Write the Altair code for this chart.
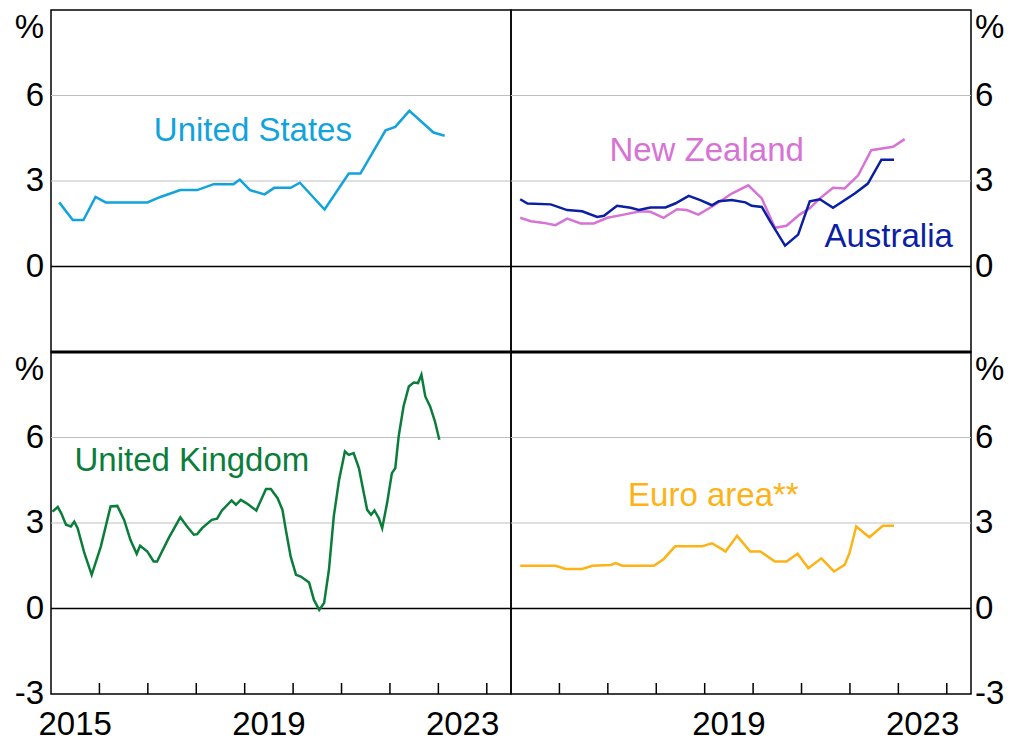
import altair as alt
import pandas as pd

FONT = "Arial"
FS = 33
W, H = 460, 342
XDOM = [2015, 2024.5]
YDOM = [-3, 9]

# ---- data (decimal years, % y/y) ----
us_x = [2015.17, 2015.45, 2015.67, 2015.92, 2016.13, 2016.99, 2017.26, 2017.67, 2018.02, 2018.36,
        2018.77, 2018.90, 2019.11, 2019.41, 2019.61, 2019.95, 2020.14, 2020.65, 2021.15, 2021.39,
        2021.91, 2022.11, 2022.40, 2022.90, 2023.13]
us_y = [2.25, 1.63, 1.63, 2.44, 2.25, 2.25, 2.44, 2.68, 2.68, 2.89,
        2.89, 3.05, 2.68, 2.53, 2.76, 2.76, 2.94, 2.00, 3.26, 3.26,
        4.78, 4.90, 5.46, 4.70, 4.59]

au_x = [2015.19, 2015.34, 2015.82, 2016.16, 2016.47, 2016.78, 2016.92, 2017.19, 2017.47, 2017.64,
        2017.88, 2018.19, 2018.39, 2018.67, 2018.91, 2019.15, 2019.29, 2019.56, 2019.84, 2019.97,
        2020.18, 2020.35, 2020.66, 2020.93, 2021.17, 2021.38, 2021.65, 2022.10, 2022.37, 2022.65,
        2022.91]
au_y = [2.36, 2.21, 2.18, 1.98, 1.94, 1.74, 1.78, 2.13, 2.06, 1.98,
        2.07, 2.07, 2.21, 2.48, 2.33, 2.15, 2.29, 2.33, 2.25, 2.13,
        2.09, 1.59, 0.73, 1.12, 2.29, 2.36, 2.06, 2.56, 2.91, 3.75,
        3.75]

nz_x = [2015.19, 2015.41, 2015.68, 2015.92, 2016.16, 2016.44, 2016.71, 2016.99, 2017.33, 2017.67,
        2017.88, 2018.15, 2018.43, 2018.63, 2018.87, 2019.18, 2019.56, 2019.90, 2020.18, 2020.45,
        2020.69, 2020.96, 2021.17, 2021.38, 2021.65, 2021.89, 2022.17, 2022.44, 2022.89, 2023.13]
nz_y = [1.71, 1.59, 1.53, 1.45, 1.68, 1.51, 1.51, 1.71, 1.82, 1.94,
        1.92, 1.71, 2.01, 1.98, 1.82, 2.13, 2.56, 2.85, 2.39, 1.36,
        1.43, 1.82, 2.04, 2.39, 2.76, 2.74, 3.20, 4.08, 4.20, 4.47]

uk_x = [2015.03, 2015.14, 2015.21, 2015.31, 2015.41, 2015.48, 2015.55, 2015.69, 2015.84, 2016.03,
        2016.23, 2016.37, 2016.51, 2016.64, 2016.77, 2016.84, 2016.99, 2017.12, 2017.19, 2017.43,
        2017.67, 2017.81, 2017.95, 2018.02, 2018.12, 2018.32, 2018.43, 2018.53, 2018.73, 2018.82,
        2018.92, 2019.04, 2019.24, 2019.44, 2019.54, 2019.68, 2019.78, 2019.85, 2019.95, 2020.06,
        2020.16, 2020.33, 2020.43, 2020.54, 2020.64, 2020.74, 2020.84, 2020.95, 2021.07, 2021.15,
        2021.25, 2021.36, 2021.46, 2021.53, 2021.61, 2021.68, 2021.77, 2021.84, 2021.94, 2022.04,
        2022.11, 2022.18, 2022.28, 2022.39, 2022.49, 2022.58, 2022.65, 2022.73, 2022.83, 2022.93,
        2023.02]
uk_y = [3.40, 3.56, 3.35, 2.94, 2.88, 3.05, 2.82, 1.94, 1.18, 2.18,
        3.58, 3.60, 3.11, 2.41, 1.92, 2.20, 2.00, 1.65, 1.65, 2.47,
        3.20, 2.88, 2.59, 2.61, 2.82, 3.11, 3.15, 3.44, 3.79, 3.64,
        3.81, 3.69, 3.44, 4.19, 4.19, 3.87, 3.46, 2.76, 1.82, 1.18,
        1.12, 0.91, 0.30, -0.05, 0.19, 1.36, 3.23, 4.52, 5.51, 5.39,
        5.45, 4.92, 4.05, 3.46, 3.29, 3.44, 3.17, 2.82, 3.69, 4.75,
        4.92, 6.04, 7.09, 7.79, 7.93, 7.91, 8.20, 7.44, 7.09, 6.56,
        5.92]

ea_x = [2015.19, 2015.92, 2016.13, 2016.47, 2016.68, 2017.06, 2017.16, 2017.30, 2017.95, 2018.15,
        2018.39, 2018.94, 2019.15, 2019.32, 2019.43, 2019.67, 2019.94, 2020.15, 2020.45, 2020.69,
        2020.92, 2021.14, 2021.41, 2021.67, 2021.89, 2021.99, 2022.13, 2022.40, 2022.68, 2022.91]
ea_y = [1.50, 1.50, 1.39, 1.39, 1.50, 1.53, 1.59, 1.50, 1.50, 1.73,
        2.18, 2.18, 2.29, 2.12, 2.00, 2.55, 2.00, 2.00, 1.65, 1.65,
        1.92, 1.41, 1.76, 1.30, 1.53, 1.94, 2.88, 2.50, 2.90, 2.90]

# series labels: (text, x year, y value)
us_label = ("United States", 2019.17, 4.77)
nz_label = ("New Zealand", 2019.04, 4.07)
au_label = ("Australia", 2022.8, 1.05)
uk_label = ("United Kingdom", 2017.91, 5.18)
ea_label = ("Euro area**", 2019.18, 3.95)

# axis tick labels
y_top_vals = [0, 3, 6]
y_top_text = ["0", "3", "6"]
y_bot_vals = [-3, 0, 3, 6]
y_bot_text = ["-3", "0", "3", "6"]
unit_val = 9
unit_text = "%"
x_left_vals = [2015.5, 2019.5, 2023.5]
x_left_text = ["2015", "2019", "2023"]
x_right_vals = [2019.5, 2023.5]
x_right_text = ["2019", "2023"]

grid_vals = [3, 6]
zero_vals = [0]
tick_years = [2016, 2017, 2018, 2019, 2020, 2021, 2022, 2023, 2024]

C_US = "#12A3DD"
C_AU = "#0B1FA3"
C_NZ = "#D673D5"
C_UK = "#0A7D3B"
C_EA = "#FDB316"

xs = alt.Scale(domain=XDOM, nice=False, zero=False)
ys = alt.Scale(domain=YDOM, nice=False, zero=False)


def ylabels(orient, vals, texts):
    xpos = -7 if orient == "left" else W + 4
    align = "right" if orient == "left" else "left"
    main = alt.Chart(pd.DataFrame({"v": vals, "t": texts})).mark_text(
        font=FONT, fontSize=FS, color="black", align=align, baseline="middle"
    ).encode(x=alt.value(xpos), y=alt.Y("v:Q", scale=ys, axis=None), text="t:N")
    unit = alt.Chart(pd.DataFrame({"v": [unit_val], "t": [unit_text]})).mark_text(
        font=FONT, fontSize=FS, color="black", align=align, baseline="top", dy=2
    ).encode(x=alt.value(xpos), y=alt.Y("v:Q", scale=ys, axis=None), text="t:N")
    return [main, unit]


def xlabels(vals, texts):
    return [alt.Chart(pd.DataFrame({"x": vals, "t": texts})).mark_text(
        font=FONT, fontSize=FS, color="black", align="center", baseline="top"
    ).encode(x=alt.X("x:Q", scale=xs, axis=None), y=alt.value(H + 15), text="t:N")]


def panel(series, labels, orient, yv, yt, xv, xt, top):
    layers = [
        alt.Chart(pd.DataFrame({"v": grid_vals})).mark_rule(color="#BFBFBF", strokeWidth=1.2)
        .encode(y=alt.Y("v:Q", scale=ys, axis=None)),
        alt.Chart(pd.DataFrame({"v": zero_vals})).mark_rule(color="black", strokeWidth=1.3)
        .encode(y=alt.Y("v:Q", scale=ys, axis=None)),
    ]
    if top:
        layers.append(
            alt.Chart(pd.DataFrame({"v": [YDOM[0]]})).mark_rule(color="black", strokeWidth=3)
            .encode(y=alt.Y("v:Q", scale=ys, axis=None)))
    else:
        layers.append(
            alt.Chart(pd.DataFrame({"yr": tick_years})).mark_rule(color="black", strokeWidth=1.5)
            .encode(x=alt.X("yr:Q", scale=xs, axis=None),
                    y=alt.value(H), y2=alt.value(H - 11)))
        layers += xlabels(xv, xt)
    layers += ylabels(orient, yv, yt)
    for sx, sy, col in series:
        df = pd.DataFrame({"x": sx, "y": sy})
        layers.append(
            alt.Chart(df).mark_line(color=col, strokeWidth=2.5)
            .encode(x=alt.X("x:Q", scale=xs, axis=None), y=alt.Y("y:Q", scale=ys, axis=None)))
    for (txt, lx, ly), col in labels:
        df = pd.DataFrame({"t": [txt], "x": [lx], "y": [ly]})
        layers.append(
            alt.Chart(df).mark_text(font=FONT, fontSize=FS, color=col, align="center", baseline="middle")
            .encode(x=alt.X("x:Q", scale=xs, axis=None), y=alt.Y("y:Q", scale=ys, axis=None), text="t:N"))
    return alt.layer(*layers).properties(width=W, height=H)


tl = panel([(us_x, us_y, C_US)], [(us_label, C_US)], "left",
           y_top_vals, y_top_text, None, None, True)
tr = panel([(nz_x, nz_y, C_NZ), (au_x, au_y, C_AU)], [(nz_label, C_NZ), (au_label, C_AU)], "right",
           y_top_vals, y_top_text, None, None, True)
bl = panel([(uk_x, uk_y, C_UK)], [(uk_label, C_UK)], "left",
           y_bot_vals, y_bot_text, x_left_vals, x_left_text, False)
br = panel([(ea_x, ea_y, C_EA)], [(ea_label, C_EA)], "right",
           y_bot_vals, y_bot_text, x_right_vals, x_right_text, False)

chart = (
    alt.concat(tl, tr, bl, br, columns=2, spacing=0, bounds="flush")
    .properties(padding={"left": 5, "top": 1, "right": 0, "bottom": 0}, background="white")
    .configure_view(stroke="black", strokeWidth=1.5)
)

chart.save("out.html", embed_options={"renderer": "svg", "actions": False})
